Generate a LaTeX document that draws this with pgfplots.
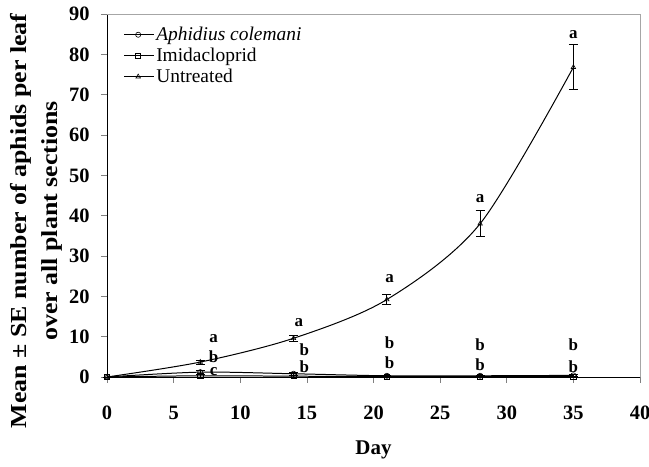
\documentclass[border=0pt]{standalone}
\usepackage{fontspec}
\setmainfont{Liberation Serif}
\usepackage{pgfplots}
\pgfplotsset{compat=1.18}
\begin{document}
\begin{tikzpicture}
\begin{axis}[
 scale only axis, width=533bp, height=363bp,
 xmin=0, xmax=40, ymin=0, ymax=90,
 xtick={0,5,...,40}, ytick={0,10,...,90},
 axis x line*=bottom, axis y line*=left,
 axis line style={black, line width=0.8pt},
 tick align=outside, major tick length=6bp,
 tick style={gray, line width=0.6pt},
 ticklabel style={font=\fontsize{20.5}{20.5}\selectfont\bfseries},
 /pgf/number format/assume math mode=true,
 xticklabel style={yshift=-19.5bp},
 yticklabel style={xshift=-8bp},
 xlabel={Day},
 xlabel style={font=\fontsize{21}{21}\selectfont\bfseries, yshift=-14.5bp},
 ylabel={\scalebox{1.13}[1]{Mean ± SE number of aphids per leaf}\\\scalebox{1.13}[1]{over all plant sections}},
 ylabel style={font=\fontsize{23}{31}\selectfont\bfseries, align=center, at={(ticklabel cs:0.43)}},
 clip=false,
 legend style={at={(rel axis cs:0.025,0.975)}, anchor=north west, draw=none, fill=none,
   font=\fontsize{19.5}{21}\selectfont, row sep=2bp},
 legend cell align=left,
 legend image code/.code={\draw[mark repeat=2,mark phase=2,#1] plot coordinates {(0cm,0cm)(0.5cm,0cm)(1.05cm,0cm)};},
]
\draw[gray!70, line width=0.6pt] (rel axis cs:0,1) -- (rel axis cs:1,1) -- (rel axis cs:1,0);
\pgfplotsset{every axis plot/.append style={black, line width=1pt, smooth, tension=0.5,
   mark options={solid, fill=white, line width=0.6pt}, mark size=2.6pt,
   error bars/y dir=both, error bars/y explicit,
   error bars/error bar style={line width=0.8pt, black},
   error bars/error mark options={rotate=90, mark size=4.5pt, line width=0.8pt, black}}}
\addplot[black, mark=o] coordinates {
 (0,0) +- (0,0)
 (7,1.2) +- (0,0.5)
 (14,0.8) +- (0,0.4)
 (21,0.3) +- (0,0.2)
 (28,0.3) +- (0,0.2)
 (35,0.4) +- (0,0.3)
};
\addlegendentry{\textit{Aphidius colemani}}
\addplot[black, mark=square] coordinates {
 (0,0) +- (0,0)
 (7,0.3) +- (0,0.4)
 (14,0.2) +- (0,0.3)
 (21,0.1) +- (0,0.1)
 (28,0.1) +- (0,0.1)
 (35,0.1) +- (0,0.1)
};
\addlegendentry{Imidacloprid}
\addplot[black, mark=triangle] coordinates {
 (0,0) +- (0,0)
 (7,3.7) +- (0,0.5)
 (14,9.6) +- (0,0.7)
 (21,19.2) +- (0,1.3)
 (28,38.0) +- (0,3.2)
 (35,76.8) +- (0,5.6)
};
\addlegendentry{Untreated}
\begin{scope}[every node/.style={font=\fontsize{17}{17}\selectfont\bfseries, inner sep=0pt}]
\node at (axis cs:8.0,9.6) {a};
\node at (axis cs:8.0,5.0) {b};
\node at (axis cs:8.0,1.3) {c};
\node at (axis cs:14.4,13.6) {a};
\node at (axis cs:14.8,6.7) {b};
\node at (axis cs:14.8,2.5) {b};
\node at (axis cs:21.2,24.3) {a};
\node at (axis cs:21.2,8.4) {b};
\node at (axis cs:21.2,3.5) {b};
\node at (axis cs:28.0,44.3) {a};
\node at (axis cs:28.0,7.9) {b};
\node at (axis cs:28.0,3.0) {b};
\node at (axis cs:35.0,85.0) {a};
\node at (axis cs:35.0,7.9) {b};
\node at (axis cs:35.0,2.5) {b};
\end{scope}
\end{axis}
\pgfresetboundingbox
\path ([xshift=-107bp,yshift=-90bp]current axis.south west) rectangle ([xshift=9bp,yshift=14bp]current axis.north east);
\end{tikzpicture}
\end{document}
